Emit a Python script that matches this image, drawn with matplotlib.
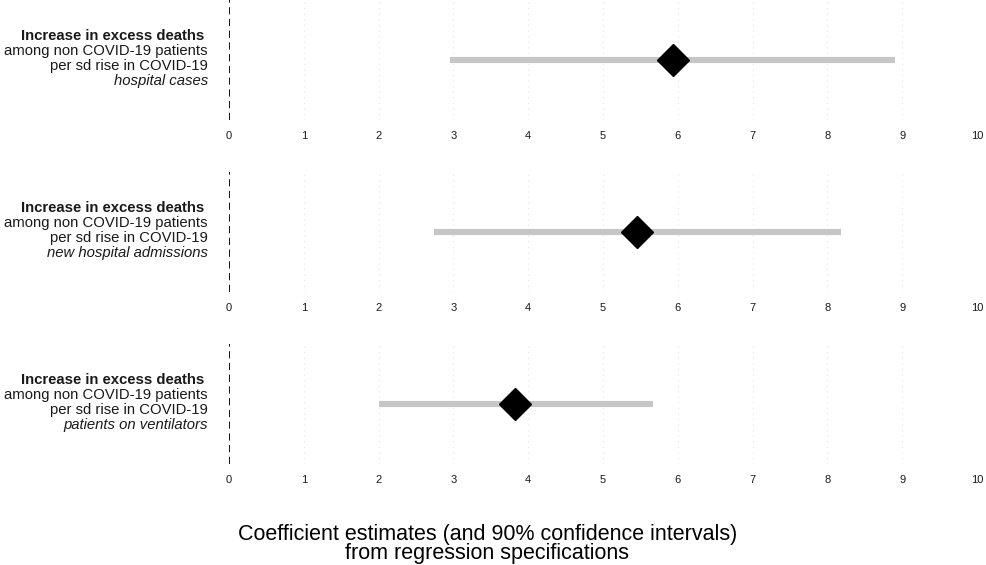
import matplotlib
matplotlib.use("Agg")
import matplotlib.pyplot as plt

plt.rcParams['font.family'] = ['Liberation Sans', 'DejaVu Sans']

# ---- data ----
outcomes = ["hospital cases", "new hospital admissions", "patients on ventilators"]
estimates = [5.93, 5.46, 3.83]
ci_low = [2.95, 2.74, 2.00]
ci_high = [8.91, 8.18, 5.67]
x_ticks = [0, 1, 2, 3, 4, 5, 6, 7, 8, 9, 10]
label_lines = ["Increase in excess deaths ", "among non COVID-19 patients", "per sd rise in COVID-19"]
x_title = ["Coefficient estimates (and 90% confidence intervals)", "from regression specifications"]

W, H = 987, 565
fig = plt.figure(figsize=(W / 100, H / 100), dpi=100)

left_px, right_px = 229, 977
panel_tops = [0, 172, 344]
panel_h = 120

def fx(px):
    return px / W

def fy(py):
    return 1 - py / H

for i, name in enumerate(outcomes):
    top = panel_tops[i]
    ax = fig.add_axes([fx(left_px), fy(top + panel_h), fx(right_px - left_px), panel_h / H])
    ax.set_xlim(x_ticks[0], x_ticks[-1])
    ax.set_ylim(0, 1)
    for sp in ax.spines.values():
        sp.set_visible(False)
    ax.set_yticks([])
    ax.set_xticks(x_ticks)
    ax.set_xticklabels([str(t) for t in x_ticks])
    ax.tick_params(axis='x', length=0, pad=8, labelsize=8, labelcolor='#1a1a1a')
    for t in x_ticks[1:-1]:
        ax.axvline(t, color='#e3e3e3', lw=0.8, ls=(0, (1, 4)), zorder=0)
    ax.axvline(0, color='black', lw=1.3, ls=(0, (4, 2.5)), zorder=1)
    ax.plot([ci_low[i], ci_high[i]], [0.5, 0.5], color='#c6c6c6', lw=4.4,
            solid_capstyle='butt', zorder=2)
    ax.plot([estimates[i]], [0.5], marker='D', color='black', markersize=16.5,
            linestyle='none', zorder=3)

    center = top + panel_h / 2
    xr = fx(208)
    fig.text(xr, fy(center - 20), label_lines[0], ha='right', va='baseline',
             fontsize=10.7, fontweight='bold', color='#1a1a1a')
    fig.text(xr, fy(center - 4.8), label_lines[1], ha='right', va='baseline',
             fontsize=10.7, color='#1a1a1a')
    fig.text(xr, fy(center + 10.4), label_lines[2], ha='right', va='baseline',
             fontsize=10.7, color='#1a1a1a')
    fig.text(xr, fy(center + 25.4), name, ha='right', va='baseline',
             fontsize=10.7, style='italic', color='#1a1a1a')

fig.text(fx(487.5), fy(559), "\n".join(x_title), ha='center', va='baseline',
         multialignment='center', linespacing=0.88, fontsize=15.5, color='black')

fig.savefig("out.png", dpi=100, facecolor='white')
